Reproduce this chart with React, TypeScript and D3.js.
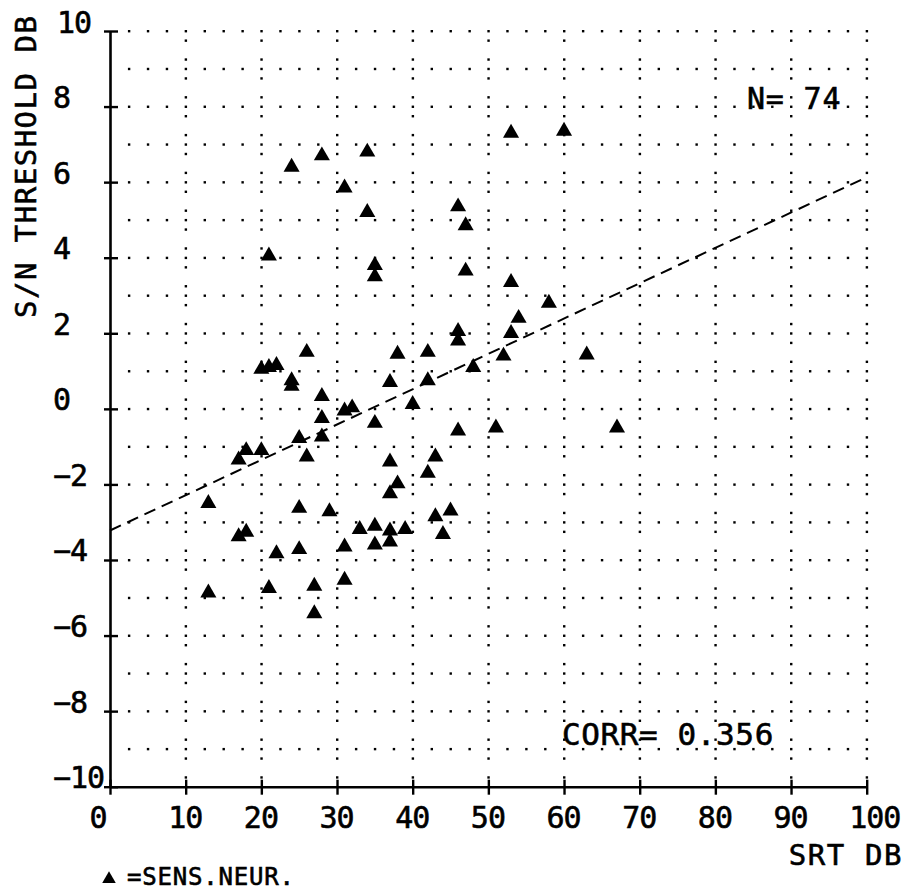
import React, { useEffect, useRef } from 'react';
import * as d3 from 'd3';

// SRT (dB) and S/N threshold (dB), one entry per subject
const srt = [
  24, 28, 34, 31, 34, 21, 35, 35, 53, 60,
  46, 47, 47, 53, 58, 54, 53, 46, 46, 42,
  52, 63, 38, 26, 20, 21, 22, 24, 24, 28,
  37, 42, 40, 31, 32, 28, 35, 25, 28, 18,
  20, 26, 17, 37, 43, 48, 46, 51, 67, 42,
  38, 37, 13, 25, 29, 43, 45, 17, 18, 33,
  35, 37, 39, 37, 35, 44, 31, 22, 25, 13,
  21, 27, 31, 27,
];
const snThreshold = [
  6.4, 6.7, 6.8, 5.85, 5.2, 4.05, 3.8, 3.5, 7.3, 7.35,
  5.35, 4.85, 3.65, 3.35, 2.8, 2.4, 2.0, 2.05, 1.8, 1.5,
  1.4, 1.43, 1.45, 1.5, 1.05, 1.1, 1.15, 0.75, 0.6, 0.33,
  0.7, 0.75, 0.12, -0.05, 0.03, -0.25, -0.38, -0.78, -0.74, -1.1,
  -1.1, -1.27, -1.35, -1.4, -1.27, 1.1, -0.58, -0.5, -0.5, -1.7,
  -1.98, -2.24, -2.5, -2.63, -2.72, -2.85, -2.7, -3.38, -3.26, -3.19,
  -3.1, -3.23, -3.19, -3.52, -3.6, -3.32, -3.65, -3.83, -3.72, -4.87,
  -4.75, -4.69, -4.53, -5.42,
];
// regression line end points
const fitX = [0, 100];
const fitY = [-3.22, 6.13];

const xTicks = [0, 10, 20, 30, 40, 50, 60, 70, 80, 90, 100];
const yTicks = [-10, -8, -6, -4, -2, 0, 2, 4, 6, 8, 10];
const yTitle = 'S/N THRESHOLD DB';
const xTitle = 'SRT DB';
const nLabel = 'N= 74';
const corrLabel = 'CORR= 0.356';
const legendLabel = '=SENS.NEUR.';

const FONT = '"DejaVu Sans Mono", "Liberation Mono", monospace';

const x = d3.scaleLinear().domain([0, 100]).range([110, 866.7]);
const y = d3.scaleLinear().domain([-10, 10]).range([786.7, 31]);

const tri = d3.symbol(d3.symbolTriangle, 112)();

export default function App() {
  const xAxisRef = useRef<SVGGElement>(null);
  const yAxisRef = useRef<SVGGElement>(null);

  useEffect(() => {
    const gx = d3.select(xAxisRef.current);
    gx.attr('transform', `translate(0,${y(-10)})`)
      .call(d3.axisBottom(x).tickValues(xTicks).tickSizeOuter(0).tickFormat(d3.format('d')) as any);
    gx.select('.domain').attr('stroke', '#000').attr('stroke-width', 2.6).attr('fill', 'none');
    gx.selectAll('.tick line').attr('y1', -7).attr('y2', 8).attr('stroke', '#000').attr('stroke-width', 2.4);
    gx.selectAll('.tick text')
      .attr('font-family', FONT).attr('font-size', 30).attr('letter-spacing', -1)
      .attr('fill', '#000').attr('stroke', '#000').attr('stroke-width', 0.6)
      .attr('text-anchor', 'start').attr('x', (d: any) => (d === 0 ? -21 : -18))
      .attr('y', 41).attr('dy', 0);

    const gy = d3.select(yAxisRef.current);
    gy.attr('transform', `translate(${x(0)},0)`)
      .call(d3.axisLeft(y).tickValues(yTicks).tickSizeOuter(0).tickFormat(d3.format('d')) as any);
    gy.select('.domain').attr('stroke', '#000').attr('stroke-width', 2.6).attr('fill', 'none');
    gy.selectAll('.tick line').attr('x1', -6).attr('x2', 8).attr('stroke', '#000').attr('stroke-width', 2.4);
    gy.selectAll('.tick text')
      .attr('font-family', FONT).attr('font-size', 30).attr('letter-spacing', -1)
      .attr('fill', '#000').attr('stroke', '#000').attr('stroke-width', 0.6)
      .attr('text-anchor', 'start').attr('x', (d: any) => (d === 10 ? -53 : -57))
      .attr('dy', 0).attr('y', 1);
  }, []);

  const rowY = d3.range(-9, 10.5, 1);
  const rowX = d3.range(2.5, 100.1, 2.5);
  const colX = d3.range(10, 100.1, 10);
  const colY = d3.range(-9.75, 10, 0.5);

  const fitLine = d3.line<number>().x((d) => x(d)).y((d, i) => y(fitY[i]));
  const textStyle = { fill: '#000', stroke: '#000', strokeWidth: 0.6 };

  return (
    <svg width={920} height={890} style={{ position: 'absolute', left: 0, top: 0, background: '#fff' }}>
      <g fill="#000">
        {rowY.map((r) =>
          rowX.map((c) => <rect key={`r${r}-${c}`} x={x(c) - 1} y={y(r) - 1} width={2.4} height={2.4} />)
        )}
        {colX.map((c) =>
          colY.map((r) => <rect key={`c${c}-${r}`} x={x(c) - 1} y={y(r) - 1} width={2.4} height={2.4} />)
        )}
      </g>
      <g ref={yAxisRef} />
      <g ref={xAxisRef} />
      <path d={fitLine(fitX) || ''} fill="none" stroke="#000" strokeWidth={2} strokeDasharray="12 7" />
      <g fill="#000">
        {srt.map((v, i) => (
          <path key={i} d={tri || ''} transform={`translate(${x(v)},${y(snThreshold[i])})`} />
        ))}
      </g>
      <text transform="translate(36,318) rotate(-90)" fontFamily={FONT} fontSize={29} letterSpacing={1.5} {...textStyle}>
        {yTitle}
      </text>
      <text x={903} y={865} textAnchor="end" fontFamily={FONT} fontSize={29} letterSpacing={1.6} {...textStyle}>
        {xTitle}
      </text>
      <text x={747} y={109} fontFamily={FONT} fontSize={30} letterSpacing={0.8} {...textStyle}>
        {nLabel}
      </text>
      <text x={562} y={745} fontFamily={FONT} fontSize={31} letterSpacing={0.6} {...textStyle}>
        {corrLabel}
      </text>
      <path d={d3.symbol(d3.symbolTriangle, 80)() || ''} transform="translate(109,879)" fill="#000" />
      <text x={127} y={885} fontFamily={FONT} fontSize={24} letterSpacing={0.8} {...textStyle}>
        {legendLabel}
      </text>
    </svg>
  );
}
